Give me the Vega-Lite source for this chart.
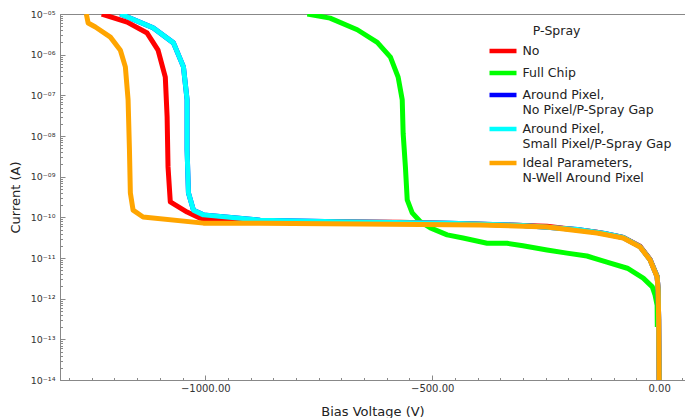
{
  "$schema": "https://vega.github.io/schema/vega-lite/v6.json",
  "width": 625,
  "height": 366,
  "autosize": {"type": "none"},
  "padding": {"left": 60, "top": 14, "right": 0, "bottom": 38},
  "config": {"font": "DejaVu Sans", "view": {"stroke": "#888888", "strokeWidth": 1}},
  "data": {"values": [
    {"s": "Full Chip", "v": -775, "i": 1e-5},
    {"s": "Full Chip", "v": -725, "i": 7.9e-6},
    {"s": "Full Chip", "v": -665, "i": 4.1e-6},
    {"s": "Full Chip", "v": -621, "i": 2.0e-6},
    {"s": "Full Chip", "v": -592, "i": 8.7e-7},
    {"s": "Full Chip", "v": -575, "i": 2.8e-7},
    {"s": "Full Chip", "v": -566, "i": 7.8e-8},
    {"s": "Full Chip", "v": -564, "i": 1.17e-8},
    {"s": "Full Chip", "v": -559, "i": 1.74e-9},
    {"s": "Full Chip", "v": -555, "i": 2.7e-10},
    {"s": "Full Chip", "v": -544, "i": 1.29e-10},
    {"s": "Full Chip", "v": -526, "i": 7.8e-11},
    {"s": "Full Chip", "v": -504, "i": 5.5e-11},
    {"s": "Full Chip", "v": -467, "i": 3.7e-11},
    {"s": "Full Chip", "v": -432, "i": 3.1e-11},
    {"s": "Full Chip", "v": -379, "i": 2.3e-11},
    {"s": "Full Chip", "v": -335, "i": 2.3e-11},
    {"s": "Full Chip", "v": -300, "i": 2.0e-11},
    {"s": "Full Chip", "v": -247, "i": 1.58e-11},
    {"s": "Full Chip", "v": -203, "i": 1.32e-11},
    {"s": "Full Chip", "v": -159, "i": 1.12e-11},
    {"s": "Full Chip", "v": -115, "i": 7.9e-12},
    {"s": "Full Chip", "v": -70, "i": 5.6e-12},
    {"s": "Full Chip", "v": -35, "i": 3.2e-12},
    {"s": "Full Chip", "v": -15, "i": 1.95e-12},
    {"s": "Full Chip", "v": -9, "i": 1.23e-12},
    {"s": "Full Chip", "v": -4.4, "i": 6.9e-13},
    {"s": "Full Chip", "v": -4.0, "i": 2.0e-13},

    {"s": "Around Pixel,|No Pixel/P-Spray Gap", "v": -1187, "i": 1e-5},
    {"s": "Around Pixel,|No Pixel/P-Spray Gap", "v": -1115, "i": 4.6e-6},
    {"s": "Around Pixel,|No Pixel/P-Spray Gap", "v": -1070, "i": 1.95e-6},
    {"s": "Around Pixel,|No Pixel/P-Spray Gap", "v": -1048, "i": 5.0e-7},
    {"s": "Around Pixel,|No Pixel/P-Spray Gap", "v": -1040, "i": 7.8e-8},
    {"s": "Around Pixel,|No Pixel/P-Spray Gap", "v": -1040, "i": 4.6e-9},
    {"s": "Around Pixel,|No Pixel/P-Spray Gap", "v": -1037, "i": 4.0e-10},
    {"s": "Around Pixel,|No Pixel/P-Spray Gap", "v": -1026, "i": 1.5e-10},
    {"s": "Around Pixel,|No Pixel/P-Spray Gap", "v": -1004, "i": 1.15e-10},
    {"s": "Around Pixel,|No Pixel/P-Spray Gap", "v": -879, "i": 8.5e-11},
    {"s": "Around Pixel,|No Pixel/P-Spray Gap", "v": -709, "i": 7.8e-11},
    {"s": "Around Pixel,|No Pixel/P-Spray Gap", "v": -460, "i": 7.2e-11},
    {"s": "Around Pixel,|No Pixel/P-Spray Gap", "v": -300, "i": 6.3e-11},
    {"s": "Around Pixel,|No Pixel/P-Spray Gap", "v": -180, "i": 5.0e-11},
    {"s": "Around Pixel,|No Pixel/P-Spray Gap", "v": -120, "i": 4.0e-11},
    {"s": "Around Pixel,|No Pixel/P-Spray Gap", "v": -79, "i": 3.2e-11},
    {"s": "Around Pixel,|No Pixel/P-Spray Gap", "v": -42, "i": 1.9e-11},
    {"s": "Around Pixel,|No Pixel/P-Spray Gap", "v": -20, "i": 9.1e-12},
    {"s": "Around Pixel,|No Pixel/P-Spray Gap", "v": -4.4, "i": 3.5e-12},
    {"s": "Around Pixel,|No Pixel/P-Spray Gap", "v": -2.2, "i": 1.66e-12},
    {"s": "Around Pixel,|No Pixel/P-Spray Gap", "v": -1, "i": 3.2e-13},
    {"s": "Around Pixel,|No Pixel/P-Spray Gap", "v": 0, "i": 1e-14},

    {"s": "No", "v": -1228, "i": 1e-5},
    {"s": "No", "v": -1172, "i": 6.3e-6},
    {"s": "No", "v": -1128, "i": 3.4e-6},
    {"s": "No", "v": -1104, "i": 1.29e-6},
    {"s": "No", "v": -1088, "i": 2.8e-7},
    {"s": "No", "v": -1084, "i": 2.95e-8},
    {"s": "No", "v": -1082, "i": 1.74e-9},
    {"s": "No", "v": -1077, "i": 2.4e-10},
    {"s": "No", "v": -1040, "i": 1.35e-10},
    {"s": "No", "v": -1011, "i": 9.5e-11},
    {"s": "No", "v": -967, "i": 8.1e-11},
    {"s": "No", "v": -791, "i": 7.8e-11},
    {"s": "No", "v": -570, "i": 7.6e-11},
    {"s": "No", "v": -394, "i": 6.8e-11},
    {"s": "No", "v": -247, "i": 6.0e-11},
    {"s": "No", "v": -137, "i": 4.3e-11},
    {"s": "No", "v": -79, "i": 3.2e-11},
    {"s": "No", "v": -42, "i": 1.95e-11},
    {"s": "No", "v": -20, "i": 9.3e-12},
    {"s": "No", "v": -4.4, "i": 3.5e-12},
    {"s": "No", "v": -2.2, "i": 1.66e-12},
    {"s": "No", "v": -1, "i": 3.2e-13},
    {"s": "No", "v": 0, "i": 1e-14},

    {"s": "Around Pixel,|Small Pixel/P-Spray Gap", "v": -1187, "i": 1e-5},
    {"s": "Around Pixel,|Small Pixel/P-Spray Gap", "v": -1115, "i": 4.6e-6},
    {"s": "Around Pixel,|Small Pixel/P-Spray Gap", "v": -1070, "i": 1.95e-6},
    {"s": "Around Pixel,|Small Pixel/P-Spray Gap", "v": -1048, "i": 5.0e-7},
    {"s": "Around Pixel,|Small Pixel/P-Spray Gap", "v": -1040, "i": 7.8e-8},
    {"s": "Around Pixel,|Small Pixel/P-Spray Gap", "v": -1040, "i": 4.6e-9},
    {"s": "Around Pixel,|Small Pixel/P-Spray Gap", "v": -1037, "i": 4.0e-10},
    {"s": "Around Pixel,|Small Pixel/P-Spray Gap", "v": -1026, "i": 1.5e-10},
    {"s": "Around Pixel,|Small Pixel/P-Spray Gap", "v": -1004, "i": 1.15e-10},
    {"s": "Around Pixel,|Small Pixel/P-Spray Gap", "v": -879, "i": 8.5e-11},
    {"s": "Around Pixel,|Small Pixel/P-Spray Gap", "v": -709, "i": 7.8e-11},
    {"s": "Around Pixel,|Small Pixel/P-Spray Gap", "v": -460, "i": 7.2e-11},
    {"s": "Around Pixel,|Small Pixel/P-Spray Gap", "v": -300, "i": 6.3e-11},
    {"s": "Around Pixel,|Small Pixel/P-Spray Gap", "v": -180, "i": 5.0e-11},
    {"s": "Around Pixel,|Small Pixel/P-Spray Gap", "v": -120, "i": 4.0e-11},
    {"s": "Around Pixel,|Small Pixel/P-Spray Gap", "v": -79, "i": 3.2e-11},
    {"s": "Around Pixel,|Small Pixel/P-Spray Gap", "v": -42, "i": 1.9e-11},
    {"s": "Around Pixel,|Small Pixel/P-Spray Gap", "v": -20, "i": 9.1e-12},
    {"s": "Around Pixel,|Small Pixel/P-Spray Gap", "v": -4.4, "i": 3.5e-12},
    {"s": "Around Pixel,|Small Pixel/P-Spray Gap", "v": -2.2, "i": 1.66e-12},
    {"s": "Around Pixel,|Small Pixel/P-Spray Gap", "v": -1, "i": 3.2e-13},
    {"s": "Around Pixel,|Small Pixel/P-Spray Gap", "v": 0, "i": 1e-14},

    {"s": "Ideal Parameters,|N-Well Around Pixel", "v": -1262, "i": 1e-5},
    {"s": "Ideal Parameters,|N-Well Around Pixel", "v": -1258, "i": 6.0e-6},
    {"s": "Ideal Parameters,|N-Well Around Pixel", "v": -1242, "i": 4.8e-6},
    {"s": "Ideal Parameters,|N-Well Around Pixel", "v": -1209, "i": 2.7e-6},
    {"s": "Ideal Parameters,|N-Well Around Pixel", "v": -1187, "i": 1.29e-6},
    {"s": "Ideal Parameters,|N-Well Around Pixel", "v": -1176, "i": 5.0e-7},
    {"s": "Ideal Parameters,|N-Well Around Pixel", "v": -1170, "i": 7.8e-8},
    {"s": "Ideal Parameters,|N-Well Around Pixel", "v": -1167, "i": 4.6e-9},
    {"s": "Ideal Parameters,|N-Well Around Pixel", "v": -1165, "i": 4.0e-10},
    {"s": "Ideal Parameters,|N-Well Around Pixel", "v": -1159, "i": 1.5e-10},
    {"s": "Ideal Parameters,|N-Well Around Pixel", "v": -1137, "i": 1.02e-10},
    {"s": "Ideal Parameters,|N-Well Around Pixel", "v": -1004, "i": 7.2e-11},
    {"s": "Ideal Parameters,|N-Well Around Pixel", "v": -880, "i": 7.2e-11},
    {"s": "Ideal Parameters,|N-Well Around Pixel", "v": -659, "i": 6.9e-11},
    {"s": "Ideal Parameters,|N-Well Around Pixel", "v": -394, "i": 6.5e-11},
    {"s": "Ideal Parameters,|N-Well Around Pixel", "v": -247, "i": 5.8e-11},
    {"s": "Ideal Parameters,|N-Well Around Pixel", "v": -137, "i": 4.1e-11},
    {"s": "Ideal Parameters,|N-Well Around Pixel", "v": -79, "i": 3.1e-11},
    {"s": "Ideal Parameters,|N-Well Around Pixel", "v": -42, "i": 1.86e-11},
    {"s": "Ideal Parameters,|N-Well Around Pixel", "v": -20, "i": 8.9e-12},
    {"s": "Ideal Parameters,|N-Well Around Pixel", "v": -4.4, "i": 3.4e-12},
    {"s": "Ideal Parameters,|N-Well Around Pixel", "v": -2.2, "i": 1.6e-12},
    {"s": "Ideal Parameters,|N-Well Around Pixel", "v": -1, "i": 3.0e-13},
    {"s": "Ideal Parameters,|N-Well Around Pixel", "v": 0, "i": 1e-14}
  ]},
  "mark": {"type": "line", "strokeWidth": 5, "strokeJoin": "round", "clip": true},
  "encoding": {
    "x": {
      "field": "v", "type": "quantitative",
      "scale": {"domain": [-1320, 57], "nice": false, "zero": false},
      "axis": {
        "title": "Bias Voltage (V)",
        "values": [-1300, -1250, -1200, -1150, -1100, -1050, -1000, -950, -900, -850, -800, -750, -700, -650, -600, -550, -500, -450, -400, -350, -300, -250, -200, -150, -100, -50, 0, 50],
        "labelExpr": "datum.value % 500 === 0 ? format(datum.value, '.2f') : ''",
        "tickSize": {"condition": {"test": "datum.value % 500 === 0", "value": -5}, "value": -2.5},
        "labelPadding": 8,
        "labelOverlap": false,
        "labelFlush": false,
        "grid": false,
        "domainColor": "#888888",
        "tickColor": "#888888",
        "labelFontSize": 10,
        "labelColor": "#333333",
        "titleFontSize": 13,
        "titleFontWeight": "normal",
        "titleColor": "#222222",
        "titlePadding": 10
      }
    },
    "y": {
      "field": "i", "type": "quantitative",
      "scale": {"type": "log", "domain": [1e-14, 1e-5], "nice": false},
      "axis": {
        "title": "Current (A)",
        "tickCount": 100,
        "labelExpr": "abs(log(datum.value)/LN10 - round(log(datum.value)/LN10)) < 0.001 ? '10⁻' + substring('⁰¹²³⁴⁵⁶⁷⁸⁹', floor(-round(log(datum.value)/LN10)/10), floor(-round(log(datum.value)/LN10)/10) + 1) + substring('⁰¹²³⁴⁵⁶⁷⁸⁹', (-round(log(datum.value)/LN10)) % 10, (-round(log(datum.value)/LN10)) % 10 + 1) : ''",
        "tickSize": {"condition": {"test": "abs(log(datum.value)/LN10 - round(log(datum.value)/LN10)) < 0.001", "value": -5}, "value": -2.5},
        "labelPadding": 10,
        "labelOverlap": false,
        "labelFlush": false,
        "grid": false,
        "domainColor": "#888888",
        "tickColor": "#888888",
        "labelFontSize": 9.5,
        "labelColor": "#333333",
        "titleFontSize": 13,
        "titleFontWeight": "normal",
        "titleColor": "#222222",
        "titlePadding": 8
      }
    },
    "color": {
      "field": "s", "type": "nominal",
      "scale": {
        "domain": ["No", "Full Chip", "Around Pixel,|No Pixel/P-Spray Gap", "Around Pixel,|Small Pixel/P-Spray Gap", "Ideal Parameters,|N-Well Around Pixel"],
        "range": ["#ff0000", "#00ff00", "#0000ff", "#00ffff", "#ffa500"]
      },
      "legend": {
        "orient": "none",
        "legendX": 430.5,
        "legendY": 11,
        "title": "P-Spray",
        "titleFontSize": 12.5,
        "titleFontWeight": "normal",
        "titleColor": "#222222",
        "titleAnchor": "middle",
        "titleAlign": "right",
        "titlePadding": 1,
        "labelFontSize": 12.5,
        "labelColor": "#222222",
        "labelExpr": "split(datum.label, '|')",
        "labelLimit": 300,
        "labelOffset": 7,
        "symbolType": "M-1.35,0L1.35,0",
        "symbolStrokeWidth": 4.5,
        "symbolSize": 400,
        "rowPadding": 0,
        "padding": 0
      }
    },
    "order": {"value": null}
  }
}
